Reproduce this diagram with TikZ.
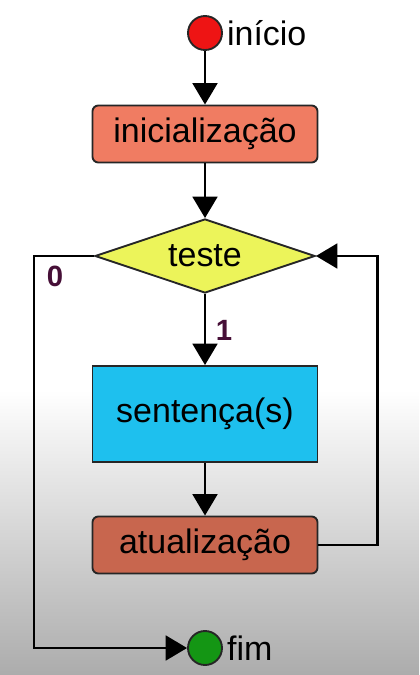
\documentclass[tikz,border=0pt]{standalone}
\usepackage{fontspec}
\setmainfont{Liberation Sans}
\usetikzlibrary{arrows.meta,shapes.geometric}
\definecolor{vermelho}{RGB}{238,20,20}
\definecolor{verde}{RGB}{20,150,20}
\definecolor{salmao}{RGB}{240,124,98}
\definecolor{tijolo}{RGB}{200,102,78}
\definecolor{ciano}{RGB}{30,192,238}
\definecolor{amarelo}{RGB}{236,244,90}
\definecolor{rotulo}{RGB}{70,15,55}
\begin{document}
\begin{tikzpicture}[x=0.03cm,y=-0.03cm,
  seta/.style={-{Triangle[length=0.64cm,width=0.74cm]},line width=2.3pt},
  caixa/.style={draw=black!85,line width=1.6pt,minimum width=6.75cm,minimum height=1.71cm,inner sep=0pt},
  terminal/.style={circle,draw=black!85,line width=1.6pt,minimum size=1.02cm,inner sep=0pt},
  marca/.style={text=rotulo,font=\fontsize{25}{30}\selectfont\bfseries},
  font=\fontsize{29}{34}\selectfont]
% fundo
\useasboundingbox (0,0) rectangle (419,675);
\fill[white] (0,0) rectangle (419,675);
\shade[top color=white,bottom color=gray!65] (0,390) rectangle (419,675);

% nos
\node[terminal,fill=vermelho] (inicio) at (205,33) {};
\node[anchor=west] (tinicio) at (inicio.east) {início};
\node[caixa,fill=salmao,rounded corners=5pt] (inic) at (205,134) {inicialização};
\node[diamond,aspect=3,draw=black!85,line width=1.6pt,fill=amarelo,minimum width=6.6cm,minimum height=2.22cm,inner sep=0pt] (teste) at (205,256) {teste};
\node[caixa,fill=ciano,minimum height=2.88cm] (sent) at (205,414) {sentença(s)};
\node[caixa,fill=tijolo,rounded corners=5pt] (atual) at (205,545) {atualização};
\node[terminal,fill=verde] (fim) at (205,648) {};
\node[anchor=west] (tfim) at (fim.east) {fim};
\node[marca] (um) at (224,330) {1};
\node[marca] (zero) at (55,276) {0};

% ligacoes
\draw[seta] (inicio) -- (inic);
\draw[seta] (inic) -- (teste);
\draw[seta] (teste) -- (sent);
\draw[seta] (sent) -- (atual);
\draw[seta] (atual.east) -- ++(59,0) |- (teste.east);
\draw[seta] (teste.west) -- ++(-60,0) |- (fim.west);

\end{tikzpicture}
\end{document}
